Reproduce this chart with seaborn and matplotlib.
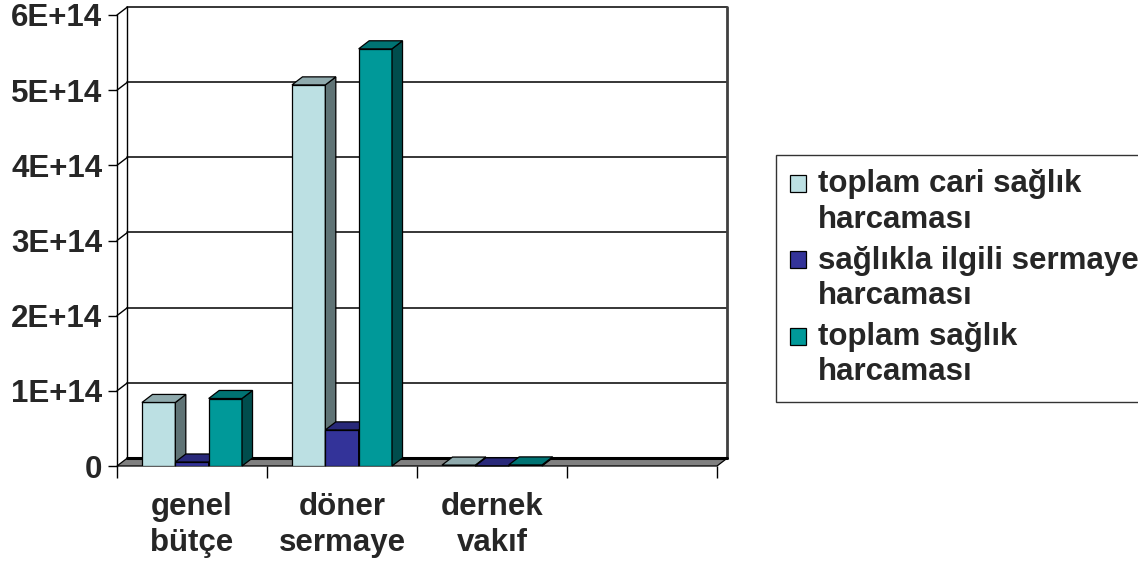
import matplotlib
matplotlib.use("Agg")
import numpy as np
import pandas as pd
import matplotlib.pyplot as plt
import seaborn as sns
from matplotlib.patches import Polygon, Rectangle, Patch
from matplotlib.legend_handler import HandlerPatch

# --- data -------------------------------------------------------------
categories = ["genel\nbütçe", "döner\nsermaye", "dernek\nvakıf", ""]
series = [
    "toplam cari sağlık\nharcaması",
    "sağlıkla ilgili sermaye\nharcaması",
    "toplam sağlık\nharcaması",
]
cari = [8.45e13, 5.07e14, 1.2e12]
sermaye = [5.3e12, 4.8e13, 2.0e11]
toplam = [8.98e13, 5.55e14, 1.4e12]

y_ticks = [0, 1e14, 2e14, 3e14, 4e14, 5e14, 6e14]
y_tick_labels = ["0", "1E+14", "2E+14", "3E+14", "4E+14", "5E+14", "6E+14"]

# --- style ------------------------------------------------------------
front_colors = ["#BCE0E3", "#333399", "#009999"]
top_colors = ["#8FAAAD", "#29297A", "#007373"]
side_colors = ["#5F7375", "#1F1F5C", "#004D4D"]
floor_color = "#808080"

sns.set_theme(style="white")
plt.rcParams["font.family"] = ["Liberation Sans", "DejaVu Sans"]
plt.rcParams["font.weight"] = "bold"
FS = 22.5

rows = []
for name, vals in zip(series, [cari, sermaye, toplam]):
    for cat, v in zip(categories[:3], vals):
        rows.append({"kategori": cat, "seri": name, "deger": v})
df = pd.DataFrame(rows)

fig = plt.figure(figsize=(11.38, 5.66), dpi=100)
W, H = 1138, 566
ax = fig.add_axes([117 / W, (H - 466) / H, 600 / W, 451 / H])

sns.barplot(
    data=df, x="kategori", y="deger", hue="seri",
    order=categories, hue_order=series, palette=front_colors,
    width=0.667, edgecolor="black", linewidth=0.9,
    saturation=1, legend=False, ax=ax,
)

ax.set_xlim(-0.5, 3.5)
ax.set_ylim(0, 6e14)
ax.set_xlabel("")
ax.set_ylabel("")

# oblique depth of the pseudo-3D box (in data units)
DX = 0.07
DY = 0.107e14

# back wall gridlines + left wall connectors
for v in y_ticks[1:]:
    ax.plot([-0.5 + DX, 3.5 + DX], [v + DY, v + DY], color="black", lw=1.1,
            clip_on=False, zorder=1)
    ax.plot([-0.5, -0.5 + DX], [v, v + DY], color="black", lw=1.0,
            clip_on=False, zorder=1)
top_v = y_ticks[-1]
ax.plot([-0.5 + DX, -0.5 + DX], [DY, top_v + DY], color="black", lw=1.0,
        clip_on=False, zorder=1)
ax.plot([3.5 + DX, 3.5 + DX], [DY, top_v + DY], color="#404040", lw=2.0,
        clip_on=False, zorder=1)

# floor
floor = Polygon([(-0.5, 0), (3.5, 0), (3.5 + DX, DY), (-0.5 + DX, DY)],
                closed=True, facecolor=floor_color, edgecolor="black",
                lw=0.9, zorder=2, clip_on=False)
ax.add_patch(floor)
ax.plot([-0.5 + DX, 3.5 + DX], [DY, DY], color="black", lw=2.2,
        zorder=2.1, clip_on=False)

# 3D faces for every bar, drawn left to right
for cont, tc, sc in zip(ax.containers, top_colors, side_colors):
    for p in cont.patches:
        x0 = p.get_x()
        w = p.get_width()
        h = p.get_height()
        if not np.isfinite(h):
            continue
        z = 3 + 0.01 * (x0 + 1)
        p.set_zorder(z)
        top = Polygon([(x0, h), (x0 + w, h), (x0 + w + DX, h + DY), (x0 + DX, h + DY)],
                      closed=True, facecolor=tc, edgecolor="black", lw=0.9,
                      zorder=z, clip_on=False)
        side = Polygon([(x0 + w, 0), (x0 + w + DX, DY), (x0 + w + DX, h + DY), (x0 + w, h)],
                       closed=True, facecolor=sc, edgecolor="black", lw=0.9,
                       zorder=z, clip_on=False)
        ax.add_patch(side)
        ax.add_patch(top)

# axes decoration
for s in ["top", "right", "bottom"]:
    ax.spines[s].set_visible(False)
ax.spines["left"].set_color("black")
ax.spines["left"].set_linewidth(1.0)

ax.set_yticks(y_ticks)
ax.set_yticklabels(y_tick_labels, fontsize=FS, fontweight="bold")
ax.tick_params(axis="y", direction="out", length=6.5, width=1.0, pad=4,
               color="black", left=True)

ax.set_xticks(range(len(categories)))
ax.set_xticklabels(categories, fontsize=FS, fontweight="bold", linespacing=1.25)
ax.set_xticks(np.arange(-0.5, len(categories), 1.0), minor=True)
ax.tick_params(axis="x", which="major", length=0, pad=19)
ax.tick_params(axis="x", which="minor", direction="out", length=8.5, width=1.0,
               color="black", bottom=True)
ax.grid(False)


class FirstLineHandler(HandlerPatch):
    def create_artists(self, legend, orig_handle, xdescent, ydescent,
                       width, height, fontsize, trans):
        rect = Rectangle((-xdescent, -ydescent + 0.6 * fontsize), width, height)
        self.update_prop(rect, orig_handle, legend)
        rect.set_transform(trans)
        return [rect]


handles = [Patch(facecolor=c, edgecolor="black", lw=0.9) for c in front_colors]
leg = fig.legend(
    handles, series, loc="upper left",
    bbox_to_anchor=(776 / W, 1 - 155 / H), bbox_transform=fig.transFigure,
    prop={"size": FS, "weight": "bold"}, frameon=True, fancybox=False,
    edgecolor="black", borderaxespad=0, borderpad=0.45,
    handlelength=0.5, handleheight=0.45, handletextpad=0.4,
    labelspacing=0.35,
    handler_map={Patch: FirstLineHandler()},
)
for t in leg.get_texts():
    t.set_linespacing(1.24)
leg.get_frame().set_linewidth(1.0)

fig.savefig("out.png", dpi=100)
